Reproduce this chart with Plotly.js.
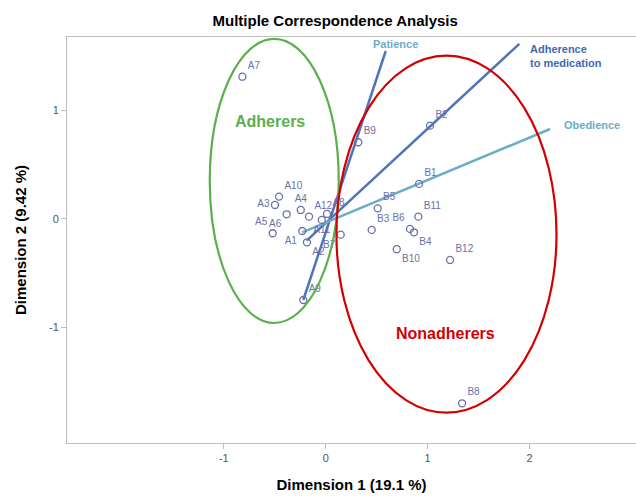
<!DOCTYPE html>
<html>
<head>
<meta charset="utf-8">
<script src="https://cdn.plot.ly/plotly-3.0.1.min.js"></script>
<style>html,body{margin:0;padding:0;background:#fff;overflow:hidden;}#chart{width:636px;height:496px;}</style>
</head>
<body>
<div id="chart"></div>
<script>
// Category points (Dimension 1, Dimension 2)
const pointLabels = ["A1","A2","A3","A4","A5","A6","A7","A8","A9","A10","A11","A12",
                     "B1","B2","B3","B4","B5","B6","B7","B8","B9","B10","B11","B12"];
const dim1 = [-0.230,-0.184,-0.498,-0.245,-0.520,-0.383,-0.818,0.013,-0.220,-0.458,-0.039,-0.164,
              0.916,1.024,0.451,0.866,0.510,0.827,0.147,1.338,0.320,0.697,0.909,1.220];
const dim2 = [-0.111,-0.215,0.129,0.083,-0.132,0.043,1.311,0.046,-0.747,0.206,-0.009,0.021,
              0.323,0.860,-0.101,-0.123,0.098,-0.092,-0.145,-1.699,0.707,-0.279,0.021,-0.378];
const labelPos = ["bottom left","bottom right","middle left","top center","top left","bottom left","top right","top right","top right","top right","bottom center","top right",
                  "top right","top right","top right","bottom right","top right","top left","bottom left","top right","top right","bottom right","top right","top right"];

// Supplementary variable vectors: start and end points
const vecNames = ["Patience","Adherence to medication","Obedience"];
const vecLabels = ["Patience","Adherence<br>to medication","Obedience"];
const vecX0 = [-0.220,-0.187,-0.230];
const vecY0 = [-0.747,-0.200,-0.123];
const vecX1 = [0.589,1.900,2.201];
const vecY1 = [1.548,1.613,0.829];
const vecLabelX = [0.68,1.982,2.316];
const vecLabelY = [1.613,1.505,0.866];

// Group ellipses: centre and semi-axes
const groupNames = ["Adherers","Nonadherers"];
const groupCx = [-0.505,1.185];
const groupCy = [0.350,-0.140];
const groupA = [0.633,1.080];
const groupB = [1.309,1.645];
const groupLabelX = [-0.546,1.18];
const groupLabelY = [0.894,-1.06];

const xTicks = [-1,0,1,2];
const yTicks = [-1,0,1];

const ptColor = "#6a6fab";
const vecLineColors = ["#4f74b8","#4f74b8","#6aadc9"];
const vecTextColors = ["#6aadc9","#3f69b2","#6aadc9"];
const groupColors = ["#5cae4e","#d40000"];

const traces = [];
for (let i = 0; i < vecNames.length; i++) {
  traces.push({
    type: "scatter", mode: "lines",
    x: [vecX0[i], vecX1[i]], y: [vecY0[i], vecY1[i]],
    line: {color: vecLineColors[i], width: 2.5},
    hoverinfo: "skip", showlegend: false, cliponaxis: false
  });
}
traces.push({
  type: "scatter", mode: "markers+text",
  x: dim1, y: dim2, text: pointLabels, textposition: labelPos,
  marker: {symbol: "circle-open", size: 7, color: ptColor, line: {width: 1.3, color: ptColor}},
  textfont: {family: "Liberation Sans, Arial, sans-serif", size: 10, color: ptColor},
  showlegend: false, cliponaxis: false
});

const shapes = groupNames.map((g, i) => ({
  type: "circle", xref: "x", yref: "y",
  x0: groupCx[i] - groupA[i], x1: groupCx[i] + groupA[i],
  y0: groupCy[i] - groupB[i], y1: groupCy[i] + groupB[i],
  line: {color: groupColors[i], width: 2.2}
}));

const annotations = [];
vecNames.forEach((v, i) => annotations.push({
  x: vecLabelX[i], y: vecLabelY[i], xref: "x", yref: "y",
  text: vecLabels[i], showarrow: false,
  xanchor: i === 0 ? "center" : "left", yanchor: "middle", align: "left",
  font: {family: "Liberation Sans, Arial, sans-serif", size: 11, color: vecTextColors[i], weight: "bold"}
}));
groupNames.forEach((g, i) => annotations.push({
  x: groupLabelX[i], y: groupLabelY[i], xref: "x", yref: "y",
  text: "<b>" + g + "</b>", showarrow: false,
  font: {family: "Liberation Sans, Arial, sans-serif", size: 16, color: groupColors[i]}
}));

const layout = {
  width: 636, height: 496,
  margin: {l: 67, r: 0, t: 37, b: 53},
  paper_bgcolor: "#fff", plot_bgcolor: "#fff",
  title: {text: "<b>Multiple Correspondence Analysis</b>", x: 0.527, xanchor: "center", y: 0.958, yanchor: "middle",
          font: {family: "Liberation Sans, Arial, sans-serif", size: 15, color: "#000"}},
  xaxis: {
    range: [-2.539, 3.045], tickvals: xTicks, ticktext: xTicks.map(String),
    showgrid: false, zeroline: false, showline: true, mirror: true, linecolor: "#bdbdbd", linewidth: 1,
    ticks: "outside", ticklen: 5, tickcolor: "#bdbdbd",
    tickfont: {family: "Liberation Sans, Arial, sans-serif", size: 11, color: "#555"},
    title: {text: "<b>Dimension 1 (19.1 %)</b>", standoff: 16,
            font: {family: "Liberation Sans, Arial, sans-serif", size: 15, color: "#000"}}
  },
  yaxis: {
    range: [-2.065, 1.677], tickvals: yTicks, ticktext: yTicks.map(String),
    showgrid: false, zeroline: false, showline: true, mirror: false, linecolor: "#bdbdbd", linewidth: 1,
    ticks: "outside", ticklen: 5, tickcolor: "#bdbdbd",
    tickfont: {family: "Liberation Sans, Arial, sans-serif", size: 11, color: "#555"},
    title: {text: "<b>Dimension 2 (9.42 %)</b>", standoff: 18,
            font: {family: "Liberation Sans, Arial, sans-serif", size: 15, color: "#000"}}
  },
  shapes: shapes,
  annotations: annotations
};

Plotly.newPlot("chart", traces, layout, {displayModeBar: false, staticPlot: true});
</script>
</body>
</html>
